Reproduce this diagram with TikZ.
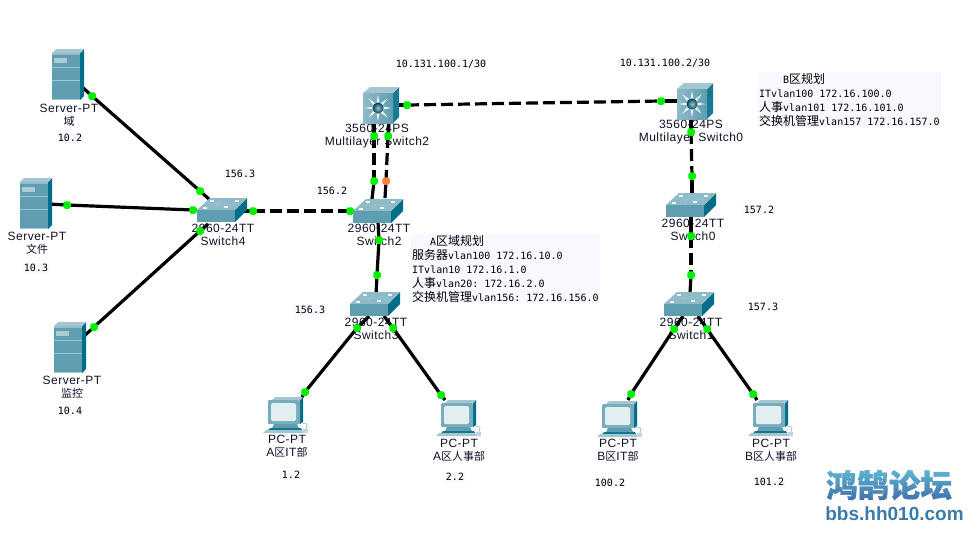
\documentclass[tikz,border=0pt]{standalone}
\usepackage{fontspec}
\setmainfont{Liberation Sans}
\setmonofont{DejaVu Sans Mono}
\newfontfamily\cjk{Noto Sans CJK SC}
\newfontfamily\logofont[BoldFeatures={FakeBold=1.2}]{Noto Sans CJK SC}
\newfontfamily\lblfont[LetterSpace=4]{Liberation Sans}
\usetikzlibrary{calc}
\definecolor{tealfront}{HTML}{5F9DB1}
\definecolor{tealside}{HTML}{006E88}
\definecolor{tealtop}{HTML}{A3C6D0}
\definecolor{notebg}{HTML}{F7F9FF}
\definecolor{portgreen}{HTML}{00F000}
\definecolor{portorange}{HTML}{FF7F3F}
\definecolor{labelink}{HTML}{101028}
\definecolor{logodeep}{HTML}{3E6CA8}
\definecolor{logolift}{rgb}{0.17,0.52,0.47}
\definecolor{urlblue}{HTML}{3B7BAB}
\newcommand{\crosslink}[4]{%
  \draw[link] #1 -- #2;
  \draw[link,dash pattern=on 12pt off 5pt] #2 -- #3;
  \draw[link] #3 -- #4;}
\newcommand{\zh}[1]{{\cjk\fontsize{11}{13}\selectfont #1}}
\newcommand{\zhp}[1]{{\cjk\fontsize{12}{14}\selectfont #1}}
\tikzset{
  x=1pt,y=-1pt,
  anchorpt/.style={inner sep=0pt,minimum size=1pt},
  link/.style={line width=3.2pt,black},
  portok/.style={fill=portgreen,inner sep=0pt,minimum size=7.5pt,rounded corners=1.8pt},
  portwait/.style={portok,fill=portorange},
  devlabel/.style={font=\lblfont\fontsize{12}{13}\selectfont,text=labelink,align=center,inner sep=0pt},
  addr/.style={font=\ttfamily\fontsize{10}{12}\selectfont,text=black,fill=notebg,inner sep=1pt},
  plan/.style={font=\ttfamily\fontsize{10}{14}\selectfont,text=black,fill=notebg,inner sep=1pt,align=left,anchor=north west},
  pics/serverpt/.style={code={
    \fill[tealside] (14,-22) -- (18,-26) -- (18,21) -- (14,25) -- cycle;
    \fill[tealtop] (-14,-22) -- (-10,-26) -- (18,-26) -- (14,-22) -- cycle;
    \fill[tealfront] (-14,-22) rectangle (14,25);
    \fill[tealtop!80!tealfront] (-14,-22) rectangle (14,-20);
    \fill[tealtop!90!white] (-12,-17) rectangle (1,-12);
    \draw[tealtop,line width=.6pt] (-14,-8) -- (14,-8) (-14,5) -- (14,5);
    \draw[tealtop,line width=.8pt] (-14,24.5) -- (14,24.5);
  }},
  pics/switchpt/.style={code={
    \fill[tealside] (19,-6) -- (31,-18) -- (31,-6) -- (19,6) -- cycle;
    \fill[tealtop!70!tealfront] (-19,-6) -- (-6,-18) -- (31,-18) -- (19,-6) -- cycle;
    \fill[tealfront] (-19,-6) rectangle (19,6);
    \draw[white!85!tealtop,line width=1.1pt]
      (-13,-8) -- (-9,-8) (-6,-15) -- (-2,-15) (8,-9) -- (12,-9) (19,-15) -- (23,-15);
    \draw[tealfront!60!white,line width=.6pt] (-10,-12) -- (20,-12) (-1,-8) -- (5,-16);
  }},
  pics/mlpt/.style={code={
    \fill[tealside!75!tealfront] (15,-15) -- (21,-21) -- (21,9) -- (15,15) -- cycle;
    \fill[tealtop] (-15,-15) -- (-8,-21) -- (21,-21) -- (15,-15) -- cycle;
    \shade[left color=tealtop!70!tealfront,right color=tealfront] (-15,-15) rectangle (15,15);
    \foreach \a in {0,45,...,315}
      \fill[white!90!tealtop] (\a-14:5.5) -- (\a:13.5) -- (\a+14:5.5) -- cycle;
    \shade[inner color=tealfront!60!white,outer color=tealside!60!black] (0,0) circle (5.5);
  }},
  pics/pcpt/.style={code={
    \fill[tealside] (14,-15) -- (16,-18) -- (17,-18) -- (17,7) -- (14,9) -- cycle;
    \fill[tealtop] (-14,-15) -- (-11,-18) -- (17,-18) -- (14,-15) -- cycle;
    \fill[tealfront!85!white,rounded corners=1pt] (-18,-15) rectangle (14,9);
    \fill[white!70!tealtop,rounded corners=1.5pt] (-15,-12) rectangle (10,6);
    \fill[tealfront] (-12,9) -- (11,9) -- (13,13) -- (-14,13) -- cycle;
    \fill[tealside!80!tealfront] (-16,13) -- (15,13) -- (16,15) -- (-18,15) -- cycle;
    \fill[tealtop] (-20,15) -- (16,15) -- (18,18) -- (-23,18) -- cycle;
    \draw[tealtop,line width=.8pt] (16,8) -- (21,9) -- (20,14);
    \fill[tealtop!70!white] (17,14) rectangle (22,18);
  }},
}
\begin{document}
\begin{tikzpicture}
\useasboundingbox[fill=white] (0,0) rectangle (980,542);

% Device positions
\node[anchorpt] (srvDomain) at (66,75) {};
\node[anchorpt] (srvFile) at (34,204) {};
\node[anchorpt] (srvWatch) at (68,348) {};
\node[anchorpt] (swFour) at (216,216) {};
\node[anchorpt] (swTwo) at (372,217) {};
\node[anchorpt] (swThree) at (369,310) {};
\node[anchorpt] (swZero) at (685,211) {};
\node[anchorpt] (swOne) at (683,310) {};
\node[anchorpt] (mlTwo) at (378,108) {};
\node[anchorpt] (mlZero) at (692,104) {};
\node[anchorpt] (pcAit) at (286,415) {};
\node[anchorpt] (pcAhr) at (459,418) {};
\node[anchorpt] (pcBit) at (620,419) {};
\node[anchorpt] (pcBhr) at (771,418) {};

% Device labels sit underneath the cabling
\node[devlabel] (lblDomain) at (69,115.5) {Server-PT\\\zh{域}};
\node[devlabel] (lblFile) at (37,243) {Server-PT\\\zh{文件}};
\node[devlabel] (lblWatch) at (72,387) {Server-PT\\\zh{监控}};
\node[devlabel] (lblFour) at (223,234.5) {2960-24TT\\Switch4};
\node[devlabel] (lblTwo) at (379,234.5) {2960-24TT\\Switch2};
\node[devlabel] (lblThree) at (376,328.5) {2960-24TT\\Switch3};
\node[devlabel] (lblZero) at (693,229.5) {2960-24TT\\Switch0};
\node[devlabel] (lblOne) at (691,329) {2960-24TT\\Switch1};
\node[devlabel] (lblMlTwo) at (377,136.5) {3560-24PS\\Multilayer Switch2};
\node[devlabel] (lblMlZero) at (691,132.5) {3560-24PS\\Multilayer Switch0};
\node[devlabel] (lblPcAit) at (287,446.5) {PC-PT\\A\zh{区}IT\zh{部}};
\node[devlabel] (lblPcAhr) at (459,450.5) {PC-PT\\A\zh{区人事部}};
\node[devlabel] (lblPcBit) at (618,450.5) {PC-PT\\B\zh{区}IT\zh{部}};
\node[devlabel] (lblPcBhr) at (771,450.5) {PC-PT\\B\zh{区人事部}};

% Address annotations
\node[addr] (ipA) at (441,64) {10.131.100.1/30};
\node[addr] (ipB) at (665,63) {10.131.100.2/30};
\node[addr] (noteDomain) at (70,138) {10.2};
\node[addr] (noteFile) at (36,268) {10.3};
\node[addr] (noteWatch) at (70,411) {10.4};
\node[addr] (noteFour) at (240,174) {156.3};
\node[addr] (noteTwo) at (332,191) {156.2};
\node[addr] (noteThree) at (310,310) {156.3};
\node[addr] (noteZero) at (759,210) {157.2};
\node[addr] (noteOne) at (763,307) {157.3};
\node[addr] (noteAit) at (291,475) {1.2};
\node[addr] (noteAhr) at (455,477) {2.2};
\node[addr] (noteBit) at (610,483) {100.2};
\node[addr] (noteBhr) at (769,482) {101.2};

% Area plans
\node[plan] (planA) at (411,234) {\hspace*{18pt}A\zhp{区域规划}\\
  \zhp{服务器}vlan100 172.16.10.0\\
  ITvlan10 172.16.1.0\\
  \zhp{人事}vlan20: 172.16.2.0\\
  \zhp{交换机管理}vlan156: 172.16.156.0};
\node[plan] (planB) at (758,72) {\hspace*{24pt}B\zhp{区规划}\\
  ITvlan100 172.16.100.0\\
  \zhp{人事}vlan101 172.16.101.0\\
  \zhp{交换机管理}vlan157 172.16.157.0};

% Port positions along each link
\path
  coordinate (p1a) at (92,96) coordinate (p1b) at (200,191)
  coordinate (p2a) at (67,205) coordinate (p2b) at (193,210)
  coordinate (p3a) at (94,327) coordinate (p3b) at (200,231)
  coordinate (p4a) at (253,211) coordinate (p4b) at (350,211)
  coordinate (p5a) at (374,136) coordinate (p5b) at (374,181)
  coordinate (p6a) at (388,136) coordinate (p6b) at (386,181)
  coordinate (p7a) at (407,105) coordinate (p7b) at (661,101)
  coordinate (p8a) at (691,132) coordinate (p8b) at (692,176)
  coordinate (p9a) at (379,240) coordinate (p9b) at (377,275)
  coordinate (p10a) at (691,236) coordinate (p10b) at (691,275)
  coordinate (p11a) at (357,328) coordinate (p11b) at (305,392)
  coordinate (p12a) at (393,328) coordinate (p12b) at (441,395)
  coordinate (p13a) at (674,329) coordinate (p13b) at (631,394)
  coordinate (p14a) at (707,329) coordinate (p14b) at (753,394);

% Straight-through links
\draw[link] ($(srvDomain.center)+(14,10)$) -- (p1a) -- (p1b) -- ($(swFour.center)+(-6,-16)$);
\draw[link] ($(srvFile.center)+(14,0)$) -- (p2a) -- (p2b) -- ($(swFour.center)+(-19,-6)$);
\draw[link] ($(srvWatch.center)+(14,-10)$) -- (p3a) -- (p3b) -- ($(swFour.center)+(-8,8)$);
\draw[link] ($(swTwo.center)+(6,5)$) -- (p9a) -- (p9b) -- ($(swThree.center)+(7,-15)$);
\draw[link] ($(swThree.center)+(0,6)$) -- (p11a) -- (p11b) -- ($(pcAit.center)+(16,-18)$);
\draw[link] ($(swThree.center)+(15,6)$) -- (p12a) -- (p12b) -- ($(pcAhr.center)+(-14,-18)$);
\draw[link] ($(swOne.center)+(0,6)$) -- (p13a) -- (p13b) -- ($(pcBit.center)+(8,-19)$);
\draw[link] ($(swOne.center)+(15,6)$) -- (p14a) -- (p14b) -- ($(pcBhr.center)+(-14,-18)$);

% Crossover links
\crosslink{($(swFour.center)+(19,-5)$)}{(p4a)}{(p4b)}{($(swTwo.center)+(-19,-6)$)}
\crosslink{($(mlTwo.center)+(-4,15)$)}{(p5a)}{(p5b)}{($(swTwo.center)+(0,-18)$)}
\crosslink{($(mlTwo.center)+(10.5,15)$)}{(p6a)}{(p6b)}{($(swTwo.center)+(13,-19)$)}
\crosslink{($(mlTwo.center)+(15,-3)$)}{(p7a)}{(p7b)}{($(mlZero.center)+(-15,-3)$)}
\crosslink{($(mlZero.center)+(-1,15)$)}{(p8a)}{(p8b)}{($(swZero.center)+(7,-16)$)}
\crosslink{($(swZero.center)+(6,6)$)}{(p10a)}{(p10b)}{($(swOne.center)+(7,-17)$)}

% Device icons
\pic at (srvDomain) {serverpt};
\pic at (srvFile) {serverpt};
\pic at (srvWatch) {serverpt};
\pic at (swFour) {switchpt};
\pic at (swTwo) {switchpt};
\pic at (swThree) {switchpt};
\pic at (swZero) {switchpt};
\pic at (swOne) {switchpt};
\pic at (mlTwo) {mlpt};
\pic at (mlZero) {mlpt};
\pic at (pcAit) {pcpt};
\pic at (pcAhr) {pcpt};
\pic at (pcBit) {pcpt};
\pic at (pcBhr) {pcpt};

% Port indicators
\foreach \p in {p1a,p1b,p2a,p2b,p3a,p3b,p4a,p4b,p5a,p5b,p6a,p7a,p7b,p8a,p8b,p9a,p9b,p10a,p10b,p11a,p11b,p12a,p12b,p13a,p13b,p14a,p14b}
  \node[portok] (port-\p) at (\p) {};
\node[portwait] (port-p6b) at (p6b) {};

% Forum logo: deep base colour, lifted towards the top
\node[inner sep=0pt,text=logodeep,font=\logofont\bfseries\fontsize{31.5}{32}\selectfont] (logoName) at (889,485) {鸿鹄论坛};
\shade[blend mode=screen,top color=logolift,bottom color=black] (824,468) rectangle (956,502);
\node[inner sep=0pt,font=\bfseries\fontsize{19}{20}\selectfont,text=urlblue] (logoUrl) at (894.5,514) {bbs.hh010.com};
\end{tikzpicture}
\end{document}
